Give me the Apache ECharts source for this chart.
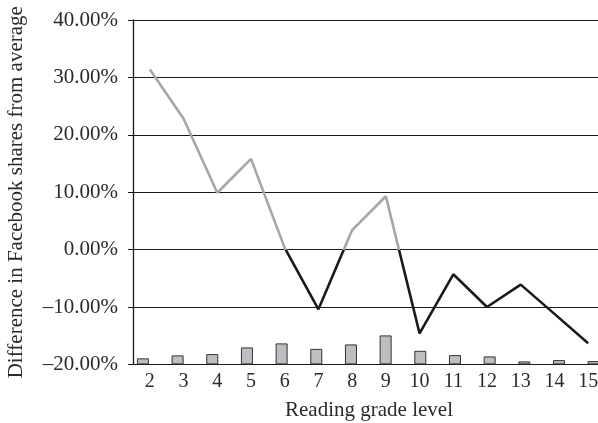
<!DOCTYPE html>
<html>
<head>
<meta charset="utf-8">
<script src="https://cdn.jsdelivr.net/npm/echarts@6/dist/echarts.min.js"></script>
<style>
html,body{margin:0;padding:0;background:#fff;}
#chart{width:598px;height:423px;}
</style>
</head>
<body>
<div id="chart"></div>
<script>
// Reading grade levels (categories)
const grades = ['2','3','4','5','6','7','8','9','10','11','12','13','14','15'];
// Difference in Facebook shares from average (%)
const diffFromAverage = [31.4, 22.8, 9.9, 15.8, 0.3, -10.4, 3.4, 9.3, -14.6, -4.3, -10.0, -6.1, -11.2, -16.3];
// Relative number of articles per grade level (secondary, unlabelled scale)
const articleShare = [1.05, 1.57, 1.8, 2.96, 3.66, 2.7, 3.48, 5.05, 2.37, 1.62, 1.39, 0.52, 0.75, 0.58];
// Y tick range
const yMin = -20, yMax = 40, yStep = 10;

const FONT = "'Liberation Serif', 'DejaVu Serif', serif";
const TXT = '#2a2a2a';

const fmt = v => (v < 0 ? '\u2013' + Math.abs(v).toFixed(2) : v.toFixed(2)) + '%';

const chart = echarts.init(document.getElementById('chart'), null, {renderer: 'canvas'});
chart.setOption({
  animation: false,
  backgroundColor: '#fff',
  grid: [
    {left: 133, right: -7, top: 20, bottom: 58.6, outerBoundsMode: 'none', containLabel: false},
    {left: 125.6, right: -13, top: 20, bottom: 58.6, outerBoundsMode: 'none', containLabel: false}
  ],
  xAxis: [
    {
      type: 'category', gridIndex: 0, data: grades, boundaryGap: true,
      axisLine: {show: true, lineStyle: {color: '#1a1a1a', width: 1}},
      axisTick: {show: false},
      axisLabel: {color: TXT, fontFamily: FONT, fontSize: 20, margin: 7},
      name: 'Reading grade level', nameLocation: 'middle', nameGap: 36,
      nameTextStyle: {color: TXT, fontFamily: FONT, fontSize: 21},
      splitLine: {show: false}
    },
    {
      type: 'category', gridIndex: 1, data: grades, boundaryGap: true,
      show: false
    }
  ],
  yAxis: [
    {
      type: 'value', gridIndex: 0, min: yMin, max: yMax, interval: yStep,
      axisLine: {show: true, lineStyle: {color: '#1a1a1a', width: 1.3}},
      axisTick: {show: true, length: 5, lineStyle: {color: '#1a1a1a'}},
      axisLabel: {color: TXT, fontFamily: FONT, fontSize: 21, margin: 15, formatter: fmt},
      splitLine: {show: true, lineStyle: {color: '#1a1a1a', width: 1.2}},
      name: 'Difference in Facebook shares from average', nameLocation: 'middle',
      nameRotate: 90, nameGap: 106,
      nameTextStyle: {color: TXT, fontFamily: FONT, fontSize: 21}
    },
    {
      type: 'value', gridIndex: 1, min: 0, max: 60, show: false,
      splitLine: {show: false}
    }
  ],
  visualMap: {
    type: 'piecewise', show: false, seriesIndex: 0, dimension: 1,
    pieces: [
      {gt: 0, lte: 100, color: '#a6a6a6'},
      {gte: -100, lte: 0, color: '#1a1a1a'}
    ]
  },
  series: [
    {
      type: 'line', xAxisIndex: 0, yAxisIndex: 0, data: diffFromAverage,
      symbol: 'none', lineStyle: {width: 2.6}, z: 5
    },
    {
      type: 'bar', xAxisIndex: 1, yAxisIndex: 1, data: articleShare,
      barWidth: 12,
      itemStyle: {color: '#bdbec2', borderColor: '#333', borderWidth: 1},
      z: 3
    }
  ]
});
</script>
</body>
</html>
